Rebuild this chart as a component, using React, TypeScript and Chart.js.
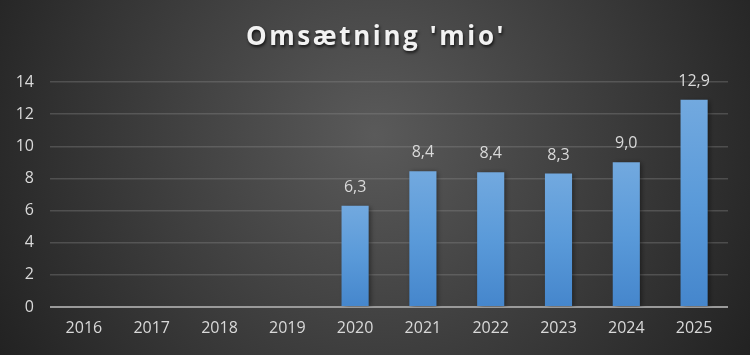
import { useEffect, useRef } from 'react';
import { Chart, registerables } from 'chart.js';

Chart.register(...registerables);

const chartTitle = "Omsætning 'mio'";
const years = ['2016', '2017', '2018', '2019', '2020', '2021', '2022', '2023', '2024', '2025'];
const revenue: (number | null)[] = [null, null, null, null, 6.3, 8.44, 8.38, 8.3, 9.0, 12.9];
const yMin = 0;
const yMax = 14;
const yStep = 2;

const FONT = "'Open Sans', 'DejaVu Sans', sans-serif";
const fmt = (v: number) => v.toFixed(1).replace('.', ',');

const bgPlugin = {
  id: 'bgPlugin',
  beforeDraw(chart: any) {
    const { ctx, width, height } = chart;
    const cx = width / 2;
    const cy = height * 0.38;
    const g = ctx.createRadialGradient(cx, cy, 0, cx, cy, Math.hypot(width / 2, height * 0.62));
    g.addColorStop(0, '#5a5a5a');
    g.addColorStop(1, '#222222');
    ctx.save();
    ctx.fillStyle = g;
    ctx.fillRect(0, 0, width, height);
    ctx.restore();
  },
};

const titlePlugin = {
  id: 'titlePlugin',
  afterDraw(chart: any) {
    const { ctx, width } = chart;
    ctx.save();
    ctx.font = `bold 26px ${FONT}`;
    (ctx as any).letterSpacing = '2.6px';
    ctx.textAlign = 'center';
    ctx.textBaseline = 'alphabetic';
    ctx.shadowColor = 'rgba(0,0,0,0.7)';
    ctx.shadowBlur = 3;
    ctx.shadowOffsetX = 1;
    ctx.shadowOffsetY = 2;
    ctx.fillStyle = '#f2f2f2';
    ctx.fillText(chartTitle, width / 2 + 1, 45);
    ctx.restore();
  },
};

const shadowPlugin = {
  id: 'shadowPlugin',
  beforeDatasetDraw(chart: any) {
    const ctx = chart.ctx;
    ctx.save();
    ctx.shadowColor = 'rgba(0,0,0,0.45)';
    ctx.shadowBlur = 5;
    ctx.shadowOffsetX = 2;
    ctx.shadowOffsetY = 1;
  },
  afterDatasetDraw(chart: any) {
    chart.ctx.restore();
  },
};

const labelPlugin = {
  id: 'labelPlugin',
  afterDatasetsDraw(chart: any) {
    const { ctx } = chart;
    const meta = chart.getDatasetMeta(0);
    ctx.save();
    ctx.font = `16px ${FONT}`;
    ctx.fillStyle = '#d9d9d9';
    ctx.textAlign = 'center';
    ctx.textBaseline = 'alphabetic';
    meta.data.forEach((bar: any, i: number) => {
      const v = revenue[i];
      if (v == null) return;
      ctx.fillText(fmt(v), bar.x, bar.y - 14);
    });
    ctx.restore();
  },
};

export default function App() {
  const ref = useRef<HTMLCanvasElement | null>(null);

  useEffect(() => {
    if (!ref.current) return;
    const chart = new Chart(ref.current, {
      type: 'bar',
      data: {
        labels: years,
        datasets: [
          {
            data: revenue as any,
            barPercentage: 0.4,
            categoryPercentage: 1.0,
            borderWidth: 0,
            backgroundColor: (c: any) => {
              const ch = c.chart;
              const area = ch.chartArea;
              const v = c.raw;
              if (!area || v == null || !ch.scales || !ch.scales.y) return '#5b9bd5';
              const yScale = ch.scales.y;
              const top = yScale.getPixelForValue(v);
              const bottom = yScale.getPixelForValue(0);
              const g = ch.ctx.createLinearGradient(0, top, 0, bottom);
              g.addColorStop(0, '#72a9df');
              g.addColorStop(0.5, '#5a9ad9');
              g.addColorStop(1, '#4586cc');
              return g;
            },
          },
        ],
      },
      options: {
        responsive: false,
        animation: false,
        layout: { padding: { top: 82, right: 22, left: 0, bottom: 0 } },
        plugins: {
          legend: { display: false },
          tooltip: { enabled: false },
          title: { display: false },
        },
        scales: {
          x: {
            grid: { display: false, drawTicks: false },
            border: { display: false },
            ticks: { color: '#d9d9d9', font: { size: 16, family: FONT }, padding: 12 },
            afterFit: (s: any) => {
              s.height = 48;
            },
          },
          y: {
            min: yMin,
            max: yMax,
            ticks: { stepSize: yStep, color: '#d9d9d9', font: { size: 16, family: FONT }, padding: 16 },
            grid: {
              drawTicks: false,
              color: (c: any) => (c.tick && c.tick.value === 0 ? '#9a9a9a' : 'rgba(140,140,140,0.35)'),
              lineWidth: (c: any) => (c.tick && c.tick.value === 0 ? 2 : 1.5),
            },
            border: { display: false },
            afterFit: (s: any) => {
              s.width = 50;
            },
          },
        },
      },
      plugins: [bgPlugin, shadowPlugin, labelPlugin, titlePlugin],
    });
    return () => chart.destroy();
  }, []);

  return (
    <div style={{ position: 'fixed', left: 0, top: 0, width: 750, height: 355 }}>
      <canvas ref={ref} width={750} height={355} style={{ display: 'block' }} />
    </div>
  );
}
